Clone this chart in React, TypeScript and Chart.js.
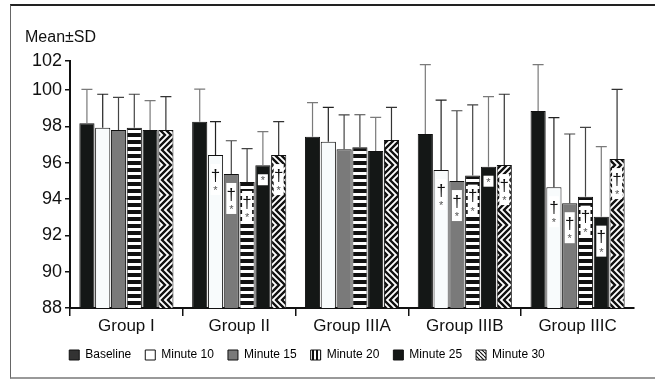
import React, { useEffect, useRef } from 'react';
import { Chart, registerables } from 'chart.js';

Chart.register(...registerables);

const FONT = "'Liberation Sans', Arial, Helvetica, sans-serif";

const categories = ['Group I', 'Group II', 'Group IIIA', 'Group IIIB', 'Group IIIC'];
const seriesNames = ['Baseline', 'Minute 10', 'Minute 15', 'Minute 20', 'Minute 25', 'Minute 30'];

// Means
const baseline = [98.17, 98.26, 97.43, 97.58, 98.85];
const minute10 = [97.93, 96.42, 97.16, 95.6, 94.65];
const minute15 = [97.8, 95.38, 96.74, 94.99, 93.77];
const minute20 = [97.93, 94.94, 96.85, 95.29, 94.13];
const minute25 = [97.8, 95.86, 96.65, 95.78, 93.03];
const minute30 = [97.8, 96.42, 97.25, 95.87, 96.2];

// SDs (upper error bars)
const baselineSD = [1.87, 1.79, 1.88, 3.82, 2.55];
const minute10SD = [1.84, 1.84, 1.89, 3.85, 3.83];
const minute15SD = [1.8, 1.83, 1.89, 3.87, 3.81];
const minute20SD = [1.84, 1.83, 1.79, 3.89, 3.82];
const minute25SD = [1.62, 1.85, 1.85, 3.86, 3.85];
const minute30SD = [1.84, 1.84, 1.8, 3.9, 3.84];

// Significance marks
const baselineMarks = ['', '', '', '', ''];
const minute10Marks = ['', '†*', '', '†*', '†*'];
const minute15Marks = ['', '†*', '', '†*', '†*'];
const minute20Marks = ['', '†*', '', '†*', '†*'];
const minute25Marks = ['', '*', '', '*', '†*'];
const minute30Marks = ['', '†*', '', '†*', '†*'];

// Y axis
const yMin = 88;
const yTop = 101.6;
const yTickValues = [88, 90, 92, 94, 96, 98, 100, 101.6];
const yTickLabels = ['88', '90', '92', '94', '96', '98', '100', '102'];

const means = [baseline, minute10, minute15, minute20, minute25, minute30];
const sds = [baselineSD, minute10SD, minute15SD, minute20SD, minute25SD, minute30SD];
const marks = [baselineMarks, minute10Marks, minute15Marks, minute20Marks, minute25Marks, minute30Marks];
const errColors = ['#7a7a7a', '#222', '#444', '#444', '#7a7a7a', '#333'];

function tile(w: number, h: number, draw: (g: CanvasRenderingContext2D) => void) {
  const c = document.createElement('canvas');
  c.width = w;
  c.height = h;
  const g = c.getContext('2d')!;
  draw(g);
  return c;
}

function makePatterns(ctx: CanvasRenderingContext2D) {
  const stripes = ctx.createPattern(
    tile(8, 7, (g) => {
      g.fillStyle = '#fff';
      g.fillRect(0, 0, 8, 7);
      g.fillStyle = '#111';
      g.fillRect(0, 0, 8, 4);
    }),
    'repeat'
  )!;
  const zigzag = ctx.createPattern(
    tile(12, 30, (g) => {
      g.fillStyle = '#fff';
      g.fillRect(0, 0, 12, 30);
      g.strokeStyle = '#111';
      g.lineWidth = 2.3;
      g.lineJoin = 'miter';
      for (let k = -48; k <= 48; k += 6) {
        g.beginPath();
        g.moveTo(k - 1, -1);
        g.lineTo(k + 15, 15);
        g.lineTo(k - 1, 31);
        g.stroke();
      }
    }),
    'repeat'
  )!;
  const vStripes = ctx.createPattern(
    tile(4, 4, (g) => {
      g.fillStyle = '#111';
      g.fillRect(0, 0, 4, 4);
      g.fillStyle = '#fff';
      g.fillRect(2, 0, 2, 4);
    }),
    'repeat'
  )!;
  const diag = ctx.createPattern(
    tile(4, 4, (g) => {
      g.fillStyle = '#fff';
      g.fillRect(0, 0, 4, 4);
      g.strokeStyle = '#111';
      g.lineWidth = 1.2;
      for (let k = -4; k <= 4; k += 4) {
        g.beginPath();
        g.moveTo(k, 0);
        g.lineTo(k + 4, 4);
        g.stroke();
      }
    }),
    'repeat'
  )!;
  return { stripes, zigzag, vStripes, diag };
}

const errorBarsPlugin = {
  id: 'errorBars',
  afterDatasetsDraw(chart: any) {
    const ctx = chart.ctx;
    const y = chart.scales.y;
    ctx.save();
    chart.data.datasets.forEach((ds: any, i: number) => {
      const meta = chart.getDatasetMeta(i);
      meta.data.forEach((bar: any, j: number) => {
        const top = y.getPixelForValue(means[i][j] + sds[i][j]);
        ctx.strokeStyle = errColors[i];
        ctx.lineWidth = 1.2;
        ctx.beginPath();
        ctx.moveTo(bar.x, bar.y);
        ctx.lineTo(bar.x, top);
        ctx.moveTo(bar.x - 5.5, top);
        ctx.lineTo(bar.x + 5.5, top);
        ctx.stroke();
      });
    });
    // significance marks
    chart.data.datasets.forEach((ds: any, i: number) => {
      const meta = chart.getDatasetMeta(i);
      meta.data.forEach((bar: any, j: number) => {
        const m = marks[i][j];
        if (!m) return;
        const x = bar.x;
        const t = bar.y;
        ctx.textAlign = 'center';
        ctx.textBaseline = 'middle';
        if (m === '†*') {
          ctx.fillStyle = '#fff';
          ctx.fillRect(x - 5, t + 9, 10, 31);
          ctx.fillStyle = '#111';
          ctx.font = `17px ${FONT}`;
          ctx.fillText('†', x, t + 21);
          ctx.fillStyle = '#555';
          ctx.font = `11px ${FONT}`;
          ctx.fillText('*', x, t + 36);
        } else {
          ctx.fillStyle = '#fff';
          ctx.fillRect(x - 5, t + 9, 10, 11);
          ctx.fillStyle = '#555';
          ctx.font = `11px ${FONT}`;
          ctx.fillText('*', x, t + 16);
        }
      });
    });
    ctx.restore();
  },
};

const yTitlePlugin = {
  id: 'yTitle',
  beforeDraw(chart: any) {
    // nudge the legend row slightly left, as in the reference
    if (chart.legend && !chart.legend._shifted) {
      chart.legend.left -= 10;
      chart.legend.right -= 10;
      chart.legend._shifted = true;
    }
  },
  afterDraw(chart: any) {
    const ctx = chart.ctx;
    const a = chart.chartArea;
    ctx.save();
    ctx.fillStyle = '#111';
    ctx.font = `16px ${FONT}`;
    ctx.textAlign = 'left';
    ctx.textBaseline = 'middle';
    ctx.fillText('Mean±SD', a.left - 45, a.top - 23);
    ctx.restore();
  },
};

export default function App() {
  const ref = useRef<HTMLCanvasElement>(null);

  useEffect(() => {
    const canvas = ref.current!;
    const ctx = canvas.getContext('2d')!;
    const p = makePatterns(ctx);
    const fills: any[] = ['#141716', '#f8fbfc', '#7a7a7a', p.stripes, '#141716', p.zigzag];
    const legendFills: any[] = ['#333', '#fff', '#7a7a7a', p.vStripes, '#141716', p.diag];

    const chart = new Chart(canvas, {
      type: 'bar',
      data: {
        labels: categories,
        datasets: seriesNames.map((name, i) => ({
          label: name,
          data: means[i],
          backgroundColor: fills[i],
          borderColor: '#111',
          borderWidth: 1,
          barPercentage: 0.96,
          categoryPercentage: 0.84,
        })),
      },
      options: {
        responsive: false,
        animation: false,
        layout: { padding: { top: 61, right: 21, bottom: 10, left: 0 } },
        plugins: {
          tooltip: { enabled: false },
          legend: {
            position: 'bottom',
            labels: {
              boxWidth: 10,
              boxHeight: 10,
              padding: 14,
              color: '#222',
              font: { family: FONT, size: 12 },
              generateLabels: () =>
                seriesNames.map((n, i) => ({
                  text: n,
                  fillStyle: legendFills[i],
                  strokeStyle: '#111',
                  lineWidth: 1,
                  hidden: false,
                  datasetIndex: i,
                })),
            },
          },
        },
        scales: {
          x: {
            offset: true,
            grid: {
              offset: true,
              drawOnChartArea: false,
              drawTicks: true,
              tickLength: 8,
              lineWidth: 1.5,
              color: (c: any) => (c.type === 'tick' ? '#111' : 'rgba(0,0,0,0)'),
            },
            border: { display: true, color: '#111', width: 2 },
            ticks: { color: '#111', font: { family: FONT, size: 17 }, padding: 0 },
            afterFit: (s: any) => {
              s.height = 27;
            },
          },
          y: {
            min: yMin,
            max: yTop,
            afterBuildTicks: (s: any) => {
              s.ticks = yTickValues.map((v) => ({ value: v }));
            },
            ticks: {
              color: '#111',
              font: { family: FONT, size: 18 },
              padding: 3,
              callback: (v: any, idx: number) => yTickLabels[idx],
            },
            grid: { drawOnChartArea: false, drawTicks: true, tickLength: 5, lineWidth: 1.5, color: '#111' },
            border: { display: true, color: '#111', width: 2 },
            afterFit: (s: any) => {
              s.width = 70;
            },
          },
        },
      },
      plugins: [errorBarsPlugin, yTitlePlugin],
    } as any);

    return () => chart.destroy();
  }, []);

  return (
    <div style={{ position: 'fixed', left: 0, top: 0, width: 655, height: 381, background: '#fff', overflow: 'hidden' }}>
      <div
        style={{
          position: 'absolute',
          left: 10,
          top: 4,
          width: 700,
          height: 375,
          boxSizing: 'border-box',
          borderTop: '2px solid #222',
          borderLeft: '1px solid #666',
          borderBottom: '2px solid #999',
        }}
      />
      <canvas ref={ref} width={655} height={381} style={{ position: 'absolute', left: 0, top: 0 }} />
    </div>
  );
}
